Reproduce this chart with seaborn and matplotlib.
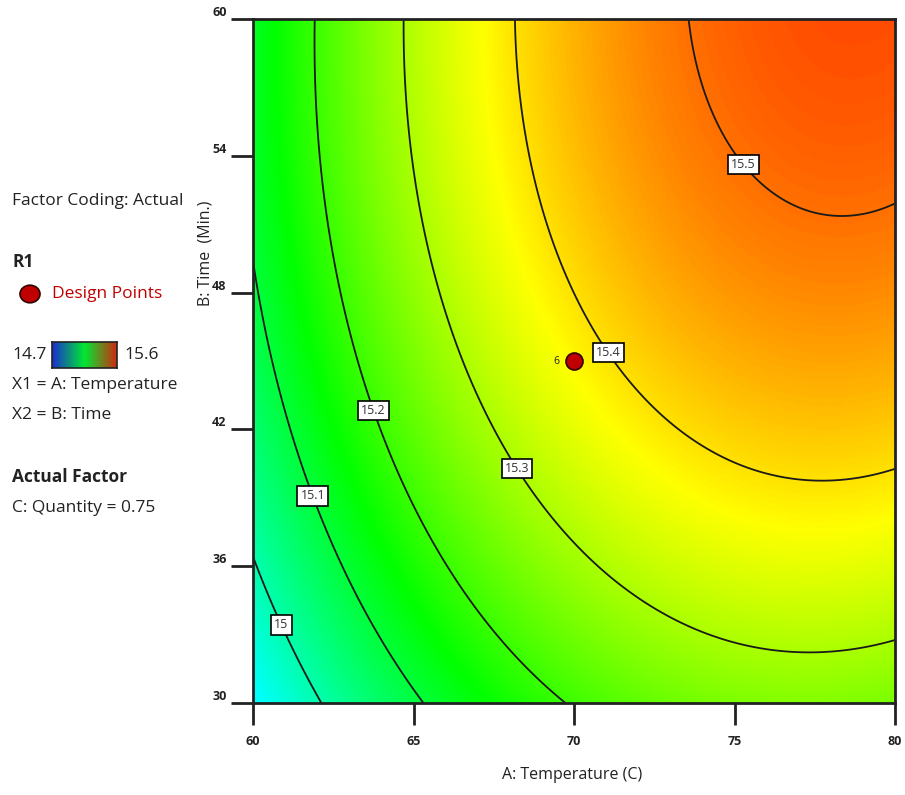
import numpy as np
import pandas as pd
import matplotlib
matplotlib.use("Agg")
import matplotlib.pyplot as plt
import seaborn as sns
from matplotlib.colors import LinearSegmentedColormap

# ---------------- data ----------------
temperature_range = [60, 80]          # A: Temperature (C)
time_range = [30, 60]                 # B: Time (Min.)
# final equation in coded terms: intercept, A, B, AB, A^2, B^2
coded_terms = ["Intercept", "A", "B", "AB", "A^2", "B^2"]
coded_coefs = [15.37867, 0.18662, 0.11855, 0.01840, -0.11659, -0.05556]
contour_levels = [15.0, 15.1, 15.2, 15.3, 15.4, 15.5]
color_range = [14.7, 15.6]
design_A = [70]
design_B = [45]
design_labels = ["6"]
x_ticks = [60, 65, 70, 75, 80]
y_ticks = [30, 36, 42, 48, 54, 60]
label_spots_A = [61.0, 61.9, 63.8, 68.3, 71.1, 75.2]
label_spots_B = [33.5, 39.1, 42.85, 40.35, 45.4, 53.55]

# ---------------- style ----------------
sns.set_theme(style="white")
plt.rcParams["font.family"] = ["Open Sans", "DejaVu Sans"]

W, H = 905, 795
fig = plt.figure(figsize=(W / 100, H / 100), dpi=100)
ax = fig.add_axes([253 / W, (H - 703) / H, 642 / W, 684 / H])

A = np.linspace(temperature_range[0], temperature_range[1], 401)
B = np.linspace(time_range[0], time_range[1], 401)
AA, BB = np.meshgrid(A, B)
ca = (AA - np.mean(temperature_range)) / (np.diff(temperature_range)[0] / 2)
cb = (BB - np.mean(time_range)) / (np.diff(time_range)[0] / 2)
b0, bA, bB, bAB, bAA, bBB = coded_coefs
Y = b0 + bA * ca + bB * cb + bAB * ca * cb + bAA * ca**2 + bBB * cb**2

cmap = LinearSegmentedColormap.from_list(
    "de", [(0, "#0000ff"), (0.25, "#00ffff"), (0.5, "#00ff00"), (0.75, "#ffff00"), (1, "#ff0000")])

ax.imshow(Y, origin="lower", extent=[*temperature_range, *time_range], cmap=cmap,
          vmin=color_range[0], vmax=color_range[1], aspect="auto", interpolation="bilinear")
cs = ax.contour(AA, BB, Y, levels=contour_levels, colors="#1a1a1a", linewidths=1.3)
texts = ax.clabel(cs, inline=False, fmt="%g", fontsize=9,
                  manual=list(zip(label_spots_A, label_spots_B)))
for t in texts:
    t.set_rotation(0)
    t.set_color("#333333")
    t.set_bbox(dict(boxstyle="square,pad=0.25", fc="white", ec="black", lw=1.2))
    t.set_zorder(6)

pts = pd.DataFrame({"A": design_A, "B": design_B, "lab": design_labels})
sns.scatterplot(data=pts, x="A", y="B", ax=ax, s=150, color="#c00000",
                edgecolor="#300000", linewidth=1.2, zorder=7, legend=False)
for _, r in pts.iterrows():
    ax.annotate(r["lab"], (r["A"], r["B"]), xytext=(-13, 0), textcoords="offset points",
                ha="center", va="center", fontsize=7.5, color="#222222", zorder=8)

ax.set_xlim(*temperature_range)
ax.set_ylim(*time_range)
ax.set_xticks(x_ticks)
ax.set_yticks(y_ticks)
ax.set_xticklabels([str(v) for v in x_ticks])
ax.set_yticklabels([str(v) for v in y_ticks])
ax.set_xlabel("")
ax.set_ylabel("")
ax.tick_params(axis="both", direction="out", length=16, width=2, color="#222222",
               labelsize=9, bottom=True, left=True)
ax.tick_params(axis="x", pad=7)
ax.tick_params(axis="y", pad=3)
for lab in ax.get_xticklabels() + ax.get_yticklabels():
    lab.set_fontweight("bold")
    lab.set_color("#222222")
    lab.set_family(["Liberation Sans Narrow", "Open Sans", "DejaVu Sans"])
for lab in ax.get_yticklabels():
    lab.set_va("bottom")
for s in ax.spines.values():
    s.set_visible(True)
    s.set_color("#222222")
    s.set_linewidth(2)

def px(x, y):
    return x / W, 1 - y / H

fig.text(*px(572, 775), "A: Temperature (C)", ha="center", va="center", fontsize=11.5, color="#222222")
fig.text(*px(205, 253), "B: Time  (Min.)", ha="center", va="center", rotation=90, fontsize=11.5, color="#222222")

# left legend block
fs = 12.5
fig.text(*px(12, 201), "Factor Coding: Actual", va="center", fontsize=fs, color="#222222")
fig.text(*px(12, 262), "R1", va="center", fontsize=fs, fontweight="bold", color="#222222")
fig.add_artist(matplotlib.patches.Circle(px(30, 294), 10 / W, transform=fig.transFigure,
               fc="#c00000", ec="#300000", lw=1.2))
fig.text(*px(52, 294), "Design Points", va="center", fontsize=fs, color="#c00000")
fig.text(*px(12, 355), "14.7", va="center", fontsize=fs, color="#222222")
fig.text(*px(124, 355), "15.6", va="center", fontsize=fs, color="#222222")
swatch_cmap = LinearSegmentedColormap.from_list("sw", ["#1a2fd0", "#00e830", "#d02a10"])
cax = fig.add_axes([52 / W, 1 - 368 / H, 65 / W, 26 / H])
cax.imshow(np.linspace(0, 1, 200)[None, :], cmap=swatch_cmap, aspect="auto")
cax.set_xticks([]); cax.set_yticks([])
for s in cax.spines.values():
    s.set_visible(True); s.set_color("#222222"); s.set_linewidth(1.2)
fig.text(*px(12, 385), "X1 = A: Temperature", va="center", fontsize=fs, color="#222222")
fig.text(*px(12, 415), "X2 = B: Time", va="center", fontsize=fs, color="#222222")
fig.text(*px(12, 477), "Actual Factor", va="center", fontsize=fs, fontweight="bold", color="#222222")
fig.text(*px(12, 508), "C: Quantity = 0.75", va="center", fontsize=fs, color="#222222")

fig.savefig("out.png", dpi=100)
